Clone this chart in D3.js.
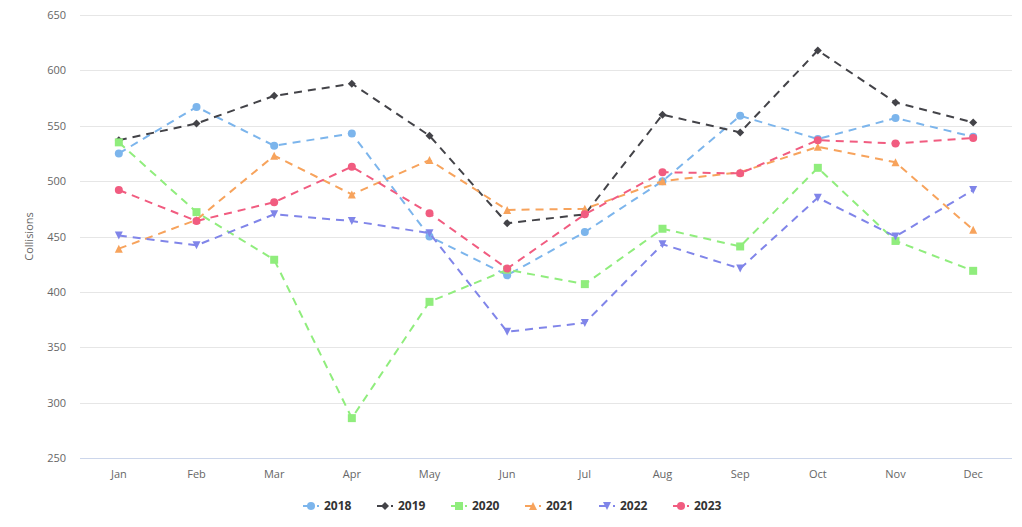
<!doctype html>
<html lang="en">
<head>
<meta charset="UTF-8">
<title>Collisions by month</title>
<style>
  body { margin: 0; background: #fff; }
  svg { display: block; font-family: "Open Sans", "DejaVu Sans", sans-serif; }
  .grid line { stroke: #e6e6e6; }
  .tick-label { fill: #666; font-size: 11px; }
  .legend text { fill: #333; font-size: 12px; font-weight: bold; }
</style>
</head>
<body>
<svg id="chart" width="1022" height="527"></svg>
<script src="https://d3js.org/d3.v7.min.js"></script>
<script>
// data
var months = ["Jan", "Feb", "Mar", "Apr", "May", "Jun", "Jul", "Aug", "Sep", "Oct", "Nov", "Dec"];
var yTicks = [250, 300, 350, 400, 450, 500, 550, 600, 650];
var years = ["2018", "2019", "2020", "2021", "2022", "2023"];

var v2018 = [525, 567, 532, 543, 450, 415, 454, 500, 559, 538, 557, 540];
var v2019 = [537, 552, 577, 588, 541, 462, 470, 560, 544, 618, 571, 553];
var v2020 = [535, 472, 429, 286, 391, 420, 407, 457, 441, 512, 446, 419];
var v2021 = [439, 465, 523, 488, 519, 474, 475, 500, 508, 531, 517, 456];
var v2022 = [451, 442, 470, 464, 453, 364, 372, 443, 421, 485, 450, 492];
var v2023 = [492, 464, 481, 513, 471, 421, 470, 508, 507, 537, 534, 539];

var colors = ["#7cb5ec", "#434348", "#90ed7d", "#f7a35c", "#8085e9", "#f15c80"];
var symbols = ["circle", "diamond", "square", "triangle", "triangle-down", "circle"];

var series = years.map(function(y, i) {
  return { name: y, values: [v2018, v2019, v2020, v2021, v2022, v2023][i], color: colors[i], symbol: symbols[i] };
});

var plotL = 80, plotR = 1012, plotT = 15, plotB = 458;

var svg = d3.select("#chart");

var x = d3.scaleBand().domain(months).range([plotL, plotR]);
var y = d3.scaleLinear().domain([250, 650]).range([plotB, plotT]);
function cx(m) { return x(m) + x.bandwidth() / 2; }

// grid
svg.append("g").attr("class", "grid")
  .selectAll("line").data(yTicks.slice(1)).enter().append("line")
    .attr("x1", plotL).attr("x2", plotR)
    .attr("y1", function(d) { return Math.round(y(d)) + 0.5; })
    .attr("y2", function(d) { return Math.round(y(d)) + 0.5; });

// x axis line
svg.append("line")
  .attr("x1", plotL).attr("x2", plotR)
  .attr("y1", Math.round(y(250)) + 0.5).attr("y2", Math.round(y(250)) + 0.5)
  .attr("stroke", "#ccd6eb");

// y labels
svg.append("g").selectAll("text").data(yTicks).enter().append("text")
  .attr("class", "tick-label")
  .attr("x", 66).attr("y", function(d) { return y(d) + 4; })
  .attr("text-anchor", "end")
  .text(function(d) { return d; });

// x labels
svg.append("g").selectAll("text").data(months).enter().append("text")
  .attr("class", "tick-label")
  .attr("x", cx).attr("y", 478)
  .attr("text-anchor", "middle")
  .text(function(d) { return d; });

svg.append("text")
  .attr("transform", "translate(33," + ((plotT + plotB) / 2) + ") rotate(-90)")
  .attr("text-anchor", "middle")
  .attr("fill", "#666").style("font-size", "11px")
  .text("Collisions");

function symbolPath(name, r) {
  // highcharts-like marker shapes
  if (name === "circle") return d3.symbol(d3.symbolCircle, Math.PI * r * r)();
  if (name === "square") return "M" + -r + "," + -r + "H" + r + "V" + r + "H" + -r + "Z";
  if (name === "diamond") return "M0," + -r + "L" + r + ",0L0," + r + "L" + -r + ",0Z";
  if (name === "triangle") return "M0," + -r + "L" + r + "," + r + "L" + -r + "," + r + "Z";
  return "M" + -r + "," + -r + "L" + r + "," + -r + "L0," + r + "Z";
}

var line = d3.line()
  .x(function(d, i) { return cx(months[i]); })
  .y(function(d) { return y(d); });

series.forEach(function(s) {
  var g = svg.append("g");
  g.append("path")
    .attr("d", line(s.values))
    .attr("fill", "none")
    .attr("stroke", s.color)
    .attr("stroke-width", 2)
    .attr("stroke-dasharray", "8,6");
  g.selectAll("path.m").data(s.values).enter().append("path")
    .attr("class", "m")
    .attr("transform", function(d, i) { return "translate(" + cx(months[i]) + "," + y(d) + ")"; })
    .attr("d", symbolPath(s.symbol, 4))
    .attr("fill", s.color);
});

// legend
var legend = svg.append("g").attr("class", "legend");
var item = legend.selectAll("g").data(series).enter().append("g")
  .attr("transform", function(d, i) { return "translate(" + (303 + i * 74) + ",506)"; });
item.append("path")
  .attr("d", "M0,0H16")
  .attr("stroke", function(d) { return d.color; })
  .attr("stroke-width", 2)
  .attr("stroke-dasharray", "8,6");
item.append("path")
  .attr("transform", "translate(8,0)")
  .attr("d", function(d) { return symbolPath(d.symbol, 4); })
  .attr("fill", function(d) { return d.color; });
item.append("text")
  .attr("x", 21).attr("y", 4)
  .text(function(d) { return d.name; });
</script>
</body>
</html>
